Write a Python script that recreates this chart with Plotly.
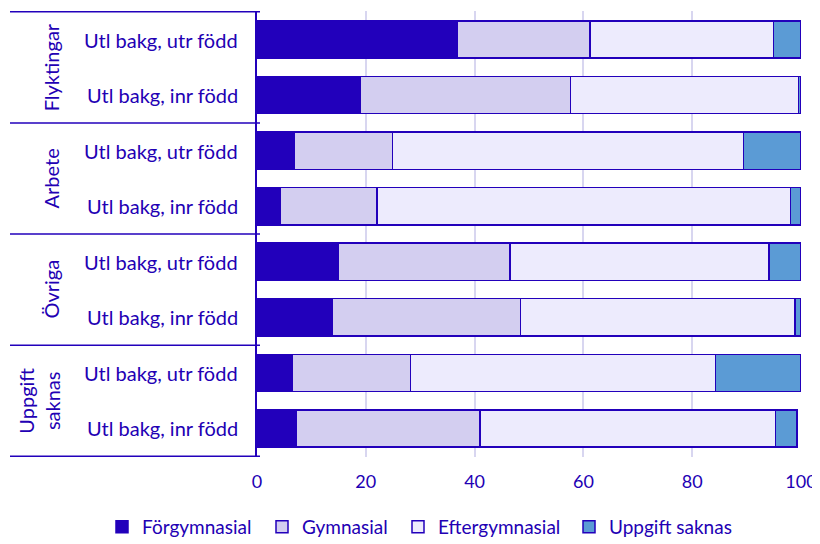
import plotly.graph_objects as go

groups = ["Flyktingar", "Arbete", "Övriga", "Uppgift<br>saknas"]
subs = ["Utl bakg, utr född", "Utl bakg, inr född"]
row_keys = ["F-utr", "F-inr", "A-utr", "A-inr", "O-utr", "O-inr", "U-utr", "U-inr"]
row_labels = [s for g in groups for s in subs]

forgym = [36.8, 18.9, 6.8, 4.3, 14.9, 13.9, 6.5, 7.2]
gym = [24.4, 38.7, 18.1, 17.8, 31.6, 34.5, 21.7, 33.8]
efter = [33.7, 41.9, 64.5, 76.0, 47.6, 50.5, 56.1, 54.3]
uppgift = [5.1, 0.5, 10.6, 1.9, 5.9, 1.1, 15.7, 4.0]
series_names = ["Förgymnasial", "Gymnasial", "Eftergymnasial", "Uppgift saknas"]
x_ticks = [0, 20, 40, 60, 80, 100]

INK = "#2200BB"
TXT = "#2200B4"
colors = ["#2200BB", "#D3CEF0", "#EDEBFD", "#5B9BD5"]
FONT = "Lato"

# page offset (body margin) of the browser
OFF = 8
W, H = 820 - OFF, 544 - OFF
# plot area in screenshot pixels
PX0, PX1, PY0, PY1 = 257, 801, 11, 457
L, R, T, B = PX0 - OFF, W - (PX1 - OFF), PY0 - OFF, H - (PY1 - OFF)
pw = W - L - R
ph = H - T - B

def sx(px):  # screenshot x -> paper x
    return (px - PX0) / pw

legend_names = ["legend", "legend2", "legend3", "legend4"]
legend_text_x = [142, 302, 438, 609]

fig = go.Figure()
for name, vals, c, lg in zip(series_names, [forgym, gym, efter, uppgift], colors, legend_names):
    fig.add_trace(go.Bar(
        y=row_keys, x=vals, name=name, orientation="h", legend=lg,
        marker=dict(color=c, line=dict(color=INK, width=1.5)),
    ))

legend_y = (H - (527 - OFF)) / H
legends = {}
for lg, tx in zip(legend_names, legend_text_x):
    legends[lg] = dict(orientation="h", xref="container", yref="container",
                       x=(tx - OFF - 40) / W, xanchor="left",
                       y=legend_y, yanchor="middle",
                       font=dict(size=19, color=TXT, family=FONT),
                       itemwidth=30, bgcolor="rgba(0,0,0,0)")

fig.update_layout(
    width=W, height=H,
    margin=dict(l=L, r=R, t=T, b=B, autoexpand=False),
    barmode="stack", bargap=0.33,
    plot_bgcolor="white", paper_bgcolor="white",
    font=dict(family=FONT, color=TXT, size=18),
    showlegend=True,
    xaxis=dict(range=[0, 100], tickvals=x_ticks, ticktext=[str(v) for v in x_ticks],
               showgrid=True, gridcolor="#D8D6F0", gridwidth=1.5,
               zeroline=False, showline=False,
               ticks="outside", ticklen=8, tickcolor="rgba(0,0,0,0)",
               ticklabeloverflow="allow",
               tickfont=dict(size=18, color=TXT)),
    yaxis=dict(categoryorder="array", categoryarray=row_keys,
               autorange="reversed", showticklabels=False,
               showgrid=False, zeroline=False,
               showline=True, linecolor=INK, linewidth=1.5),
    **legends,
)

# group separator lines
for b in [-0.5, 1.5, 3.5, 5.5, 7.5]:
    fig.add_shape(type="line", xref="paper", yref="y",
                  x0=sx(10), x1=sx(260), y0=b, y1=b,
                  line=dict(color=INK, width=1.5))

# sub labels
for key, lab in zip(row_keys, row_labels):
    fig.add_annotation(x=sx(240), xref="paper", y=key, yref="y",
                       text=lab, showarrow=False, xanchor="right",
                       font=dict(size=20, color=TXT))

# group labels
for i, g in enumerate(groups):
    fig.add_annotation(x=sx(39 if "<br>" in g else 51), xref="paper",
                       y=2 * i + 0.5, yref="y",
                       text=g, showarrow=False, textangle=-90,
                       xanchor="center", yanchor="middle",
                       font=dict(size=20, color=TXT))

fig.write_html("out.html")
